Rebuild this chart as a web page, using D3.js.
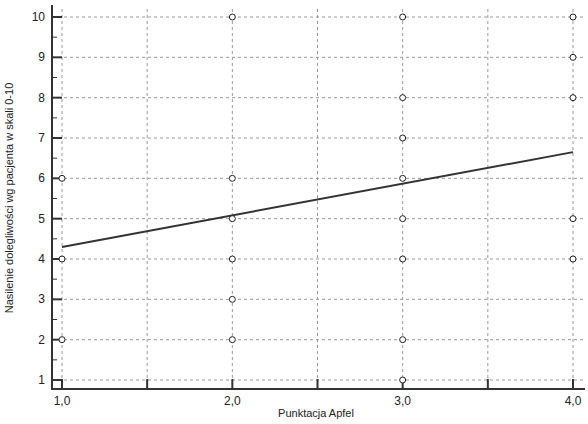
<!DOCTYPE html>
<html>
<head>
<meta charset="utf-8">
<script src="https://cdn.jsdelivr.net/npm/d3@7"></script>
<style>
  body { margin: 0; background: #fff; }
  text { font-family: "Liberation Sans", Arial, sans-serif; fill: #222; }
</style>
</head>
<body>
<div id="chart"></div>
<script>
// data
const apfelX = [1, 1, 1,
                2, 2, 2, 2, 2, 2,
                3, 3, 3, 3, 3, 3, 3, 3,
                4, 4, 4, 4, 4];
const painY = [2, 4, 6,
               2, 3, 4, 5, 6, 10,
               1, 2, 4, 5, 6, 7, 8, 10,
               4, 5, 8, 9, 10];
// regression line end points
const fitX = [1, 4];
const fitY = [4.3, 6.65];

const xTickLabels = ["1,0", "2,0", "3,0", "4,0"];
const yTickValues = [1, 2, 3, 4, 5, 6, 7, 8, 9, 10];

const FRAME_WIDTH = 588;
const FRAME_HEIGHT = 424;
const AXIS_LEFT = 52, AXIS_BOTTOM = 389, AXIS_TOP = 5, AXIS_RIGHT = 585;

const svg = d3.select("#chart").append("svg")
    .attr("width", FRAME_WIDTH)
    .attr("height", FRAME_HEIGHT);

const xScale = d3.scaleLinear().domain([1, 4]).range([62, 573]);
const yScale = d3.scaleLinear().domain([1, 10]).range([380, 17]);

// grid
const xGrid = d3.range(1, 4.01, 0.5);
svg.append("g").selectAll("line")
    .data(xGrid).enter().append("line")
    .attr("x1", d => xScale(d)).attr("x2", d => xScale(d))
    .attr("y1", AXIS_TOP + 4).attr("y2", AXIS_BOTTOM)
    .attr("stroke", "#9a9a9a").attr("stroke-dasharray", "3,3");
svg.append("g").selectAll("line")
    .data(yTickValues).enter().append("line")
    .attr("x1", AXIS_LEFT).attr("x2", AXIS_RIGHT)
    .attr("y1", d => yScale(d)).attr("y2", d => yScale(d))
    .attr("stroke", "#9a9a9a").attr("stroke-dasharray", "3,3");

// axes lines
svg.append("line")
    .attr("x1", AXIS_LEFT).attr("x2", AXIS_LEFT)
    .attr("y1", AXIS_TOP).attr("y2", AXIS_BOTTOM + 1)
    .attr("stroke", "#333").attr("stroke-width", 2);
svg.append("line")
    .attr("x1", AXIS_LEFT - 1).attr("x2", AXIS_RIGHT)
    .attr("y1", AXIS_BOTTOM).attr("y2", AXIS_BOTTOM)
    .attr("stroke", "#333").attr("stroke-width", 2);

// y ticks (major inward, minor at halves)
svg.append("g").selectAll("line")
    .data(yTickValues).enter().append("line")
    .attr("x1", AXIS_LEFT).attr("x2", AXIS_LEFT + 10)
    .attr("y1", d => yScale(d)).attr("y2", d => yScale(d))
    .attr("stroke", "#333").attr("stroke-width", 2);
svg.append("g").selectAll("line")
    .data(d3.range(1.5, 10, 1)).enter().append("line")
    .attr("x1", AXIS_LEFT).attr("x2", AXIS_LEFT + 5)
    .attr("y1", d => yScale(d)).attr("y2", d => yScale(d))
    .attr("stroke", "#333").attr("stroke-width", 1);
svg.append("g").selectAll("text")
    .data(yTickValues).enter().append("text")
    .attr("x", AXIS_LEFT - 7).attr("y", d => yScale(d) + 4)
    .attr("text-anchor", "end").attr("font-size", 12)
    .text(d => d);

// x ticks
svg.append("g").selectAll("line")
    .data(xGrid).enter().append("line")
    .attr("x1", d => xScale(d)).attr("x2", d => xScale(d))
    .attr("y1", AXIS_BOTTOM).attr("y2", AXIS_BOTTOM - 10)
    .attr("stroke", "#333").attr("stroke-width", 2);
svg.append("g").selectAll("text")
    .data(xTickLabels).enter().append("text")
    .attr("x", (d, i) => xScale(i + 1)).attr("y", AXIS_BOTTOM + 16)
    .attr("text-anchor", "middle").attr("font-size", 12)
    .text(d => d);

// axis titles
svg.append("text")
    .attr("x", 316).attr("y", 417)
    .attr("text-anchor", "middle").attr("font-size", 11)
    .text("Punktacja Apfel");
svg.append("text")
    .attr("transform", "translate(13," + 198 + ") rotate(-90)")
    .attr("text-anchor", "middle").attr("font-size", 11)
    .text("Nasilenie dolegliwości wg pacjenta w skali 0-10");

// regression line
svg.append("line")
    .attr("x1", xScale(fitX[0])).attr("y1", yScale(fitY[0]))
    .attr("x2", xScale(fitX[1])).attr("y2", yScale(fitY[1]))
    .attr("stroke", "#333").attr("stroke-width", 2);

// points
svg.append("g").selectAll("circle")
    .data(apfelX).enter().append("circle")
    .attr("cx", d => xScale(d))
    .attr("cy", (d, i) => yScale(painY[i]))
    .attr("r", 3)
    .attr("fill", "#fff").attr("stroke", "#222").attr("stroke-width", 1);
</script>
</body>
</html>
